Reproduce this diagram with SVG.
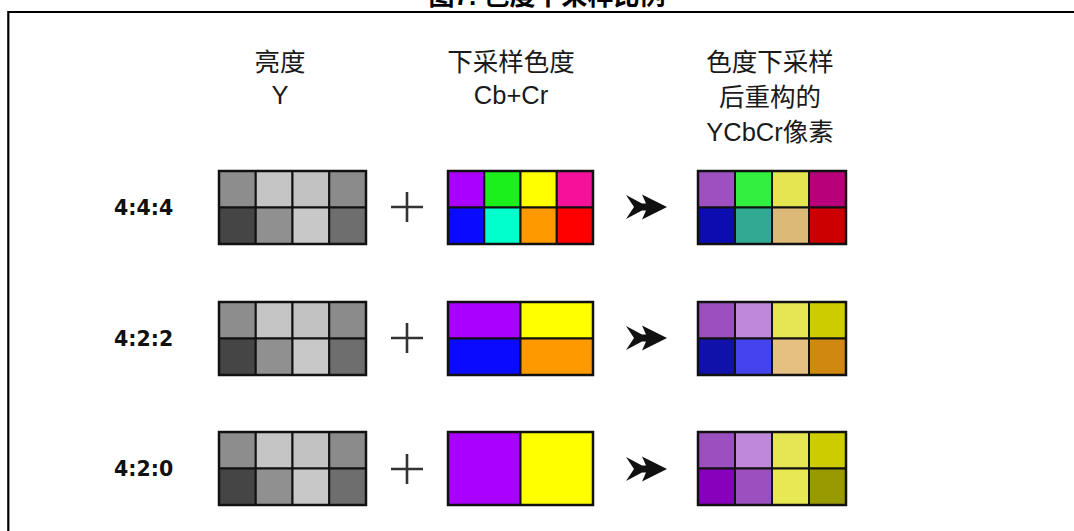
<svg xmlns="http://www.w3.org/2000/svg" width="1074" height="531" viewBox="0 0 1074 531">
<style>
.frame{stroke:#000;stroke-width:2.2;fill:none}
.title{font-family:"Liberation Sans","Noto Sans CJK SC",sans-serif;font-weight:bold;font-size:26px;fill:#000;text-anchor:middle}
.hdr{font-family:"Liberation Sans","Noto Sans CJK SC",sans-serif;font-size:25.5px;fill:#1a1a1a;text-anchor:middle}
.rl{font-family:"DejaVu Sans",sans-serif;font-weight:bold;font-size:20.5px;fill:#111}
.c{stroke:#111;stroke-width:2}
.o{fill:none;stroke:#111;stroke-width:2.5}
.plus{stroke:#333;stroke-width:2.6;fill:none}
.arr{fill:#111}
</style>
<defs>
<path id="arrow" class="arr" d="M0,-12 L16,-3.5 L20,-3.5 L16,-12.5 L41,0 L16,12.5 L20,3.5 L16,3.5 L0,12 L8,0 Z"/>
<path id="plusSign" class="plus" d="M-16,0 H16 M0,-15 V15"/>
<g id="gray">
<rect class="c" x="0" y="0" width="36.75" height="36.5" fill="#8d8d8d"/>
<rect class="c" x="36.75" y="0" width="36.75" height="36.5" fill="#c5c5c5"/>
<rect class="c" x="73.5" y="0" width="36.75" height="36.5" fill="#c2c2c2"/>
<rect class="c" x="110.25" y="0" width="36.75" height="36.5" fill="#8b8b8b"/>
<rect class="c" x="0" y="36.5" width="36.75" height="36.5" fill="#454545"/>
<rect class="c" x="36.75" y="36.5" width="36.75" height="36.5" fill="#909090"/>
<rect class="c" x="73.5" y="36.5" width="36.75" height="36.5" fill="#c8c8c8"/>
<rect class="c" x="110.25" y="36.5" width="36.75" height="36.5" fill="#6e6e6e"/>
<rect class="o" x="0" y="0" width="147" height="73"/>
</g>
</defs>
<rect width="1074" height="531" fill="#fff"/>
<g id="title">
<text class="title" x="547" y="5">图7. 色度下采样比例</text>
<path class="frame" d="M8.3,531 V12 H1074"/>
</g>
<g id="headers">
<text class="hdr" x="280" y="71">亮度</text>
<text class="hdr" x="280" y="104">Y</text>
<text class="hdr" x="511" y="71">下采样色度</text>
<text class="hdr" x="511" y="104">Cb+Cr</text>
<text class="hdr" x="770" y="71">色度下采样</text>
<text class="hdr" x="770" y="106">后重构的</text>
<text class="hdr" x="770" y="141">YCbCr像素</text>
</g>
<g id="row-labels">
<text class="rl" x="114" y="215">4:4:4</text>
<text class="rl" x="114" y="346">4:2:2</text>
<text class="rl" x="114" y="476">4:2:0</text>
</g>
<g id="luma-444" transform="translate(219,171)"><use href="#gray"/></g>
<g id="luma-422" transform="translate(219,302)"><use href="#gray"/></g>
<g id="luma-420" transform="translate(219,432)"><use href="#gray"/></g>
<g id="chroma-444" transform="translate(448,171)">
<rect class="c" x="0" y="0" width="36.25" height="36.5" fill="#aa00ff"/>
<rect class="c" x="36.25" y="0" width="36.25" height="36.5" fill="#1cf01c"/>
<rect class="c" x="72.5" y="0" width="36.25" height="36.5" fill="#ffff00"/>
<rect class="c" x="108.75" y="0" width="36.25" height="36.5" fill="#f5119a"/>
<rect class="c" x="0" y="36.5" width="36.25" height="36.5" fill="#0a0aff"/>
<rect class="c" x="36.25" y="36.5" width="36.25" height="36.5" fill="#00ffcc"/>
<rect class="c" x="72.5" y="36.5" width="36.25" height="36.5" fill="#ff9900"/>
<rect class="c" x="108.75" y="36.5" width="36.25" height="36.5" fill="#ff0000"/>
<rect class="o" x="0" y="0" width="145" height="73"/>
</g>
<g id="chroma-422" transform="translate(448,302)">
<rect class="c" x="0" y="0" width="72.5" height="36.5" fill="#aa00ff"/>
<rect class="c" x="72.5" y="0" width="72.5" height="36.5" fill="#ffff00"/>
<rect class="c" x="0" y="36.5" width="72.5" height="36.5" fill="#0a0aff"/>
<rect class="c" x="72.5" y="36.5" width="72.5" height="36.5" fill="#ff9900"/>
<rect class="o" x="0" y="0" width="145" height="73"/>
</g>
<g id="chroma-420" transform="translate(448,432)">
<rect class="c" x="0" y="0" width="72.5" height="73" fill="#aa00ff"/>
<rect class="c" x="72.5" y="0" width="72.5" height="73" fill="#ffff00"/>
<rect class="o" x="0" y="0" width="145" height="73"/>
</g>
<g id="result-444" transform="translate(698,171)">
<rect class="c" x="0" y="0" width="37" height="36.5" fill="#9e50c0"/>
<rect class="c" x="37" y="0" width="37" height="36.5" fill="#33f040"/>
<rect class="c" x="74" y="0" width="37" height="36.5" fill="#e5e552"/>
<rect class="c" x="111" y="0" width="37" height="36.5" fill="#b8007a"/>
<rect class="c" x="0" y="36.5" width="37" height="36.5" fill="#0c0cb0"/>
<rect class="c" x="37" y="36.5" width="37" height="36.5" fill="#30aa92"/>
<rect class="c" x="74" y="36.5" width="37" height="36.5" fill="#ddb978"/>
<rect class="c" x="111" y="36.5" width="37" height="36.5" fill="#cc0000"/>
<rect class="o" x="0" y="0" width="148" height="73"/>
</g>
<g id="result-422" transform="translate(698,302)">
<rect class="c" x="0" y="0" width="37" height="36.5" fill="#9c50c0"/>
<rect class="c" x="37" y="0" width="37" height="36.5" fill="#bf88d8"/>
<rect class="c" x="74" y="0" width="37" height="36.5" fill="#e6e655"/>
<rect class="c" x="111" y="0" width="37" height="36.5" fill="#cccc00"/>
<rect class="c" x="0" y="36.5" width="37" height="36.5" fill="#1010aa"/>
<rect class="c" x="37" y="36.5" width="37" height="36.5" fill="#4444ee"/>
<rect class="c" x="74" y="36.5" width="37" height="36.5" fill="#e6c080"/>
<rect class="c" x="111" y="36.5" width="37" height="36.5" fill="#d08810"/>
<rect class="o" x="0" y="0" width="148" height="73"/>
</g>
<g id="result-420" transform="translate(698,432)">
<rect class="c" x="0" y="0" width="37" height="36.5" fill="#9c50c0"/>
<rect class="c" x="37" y="0" width="37" height="36.5" fill="#bf88d8"/>
<rect class="c" x="74" y="0" width="37" height="36.5" fill="#e6e655"/>
<rect class="c" x="111" y="0" width="37" height="36.5" fill="#cccc00"/>
<rect class="c" x="0" y="36.5" width="37" height="36.5" fill="#8800bb"/>
<rect class="c" x="37" y="36.5" width="37" height="36.5" fill="#9c50c0"/>
<rect class="c" x="74" y="36.5" width="37" height="36.5" fill="#e8e855"/>
<rect class="c" x="111" y="36.5" width="37" height="36.5" fill="#999900"/>
<rect class="o" x="0" y="0" width="148" height="73"/>
</g>
<g id="connectors">
<use href="#plusSign" x="407" y="207"/>
<use href="#plusSign" x="407" y="338"/>
<use href="#plusSign" x="407" y="469"/>
<use href="#arrow" x="626" y="207"/>
<use href="#arrow" x="626" y="338"/>
<use href="#arrow" x="626" y="469"/>
</g>
</svg>
